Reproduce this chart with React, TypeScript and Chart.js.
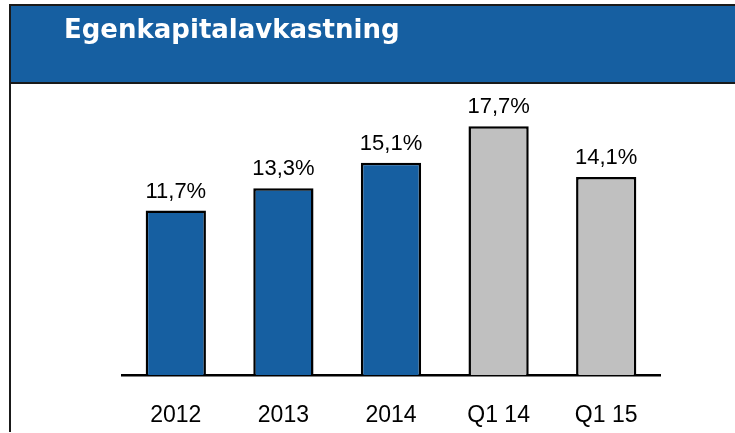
import React, { useEffect, useRef } from "react";
import { Chart, registerables } from "chart.js";

Chart.register(...registerables);

const TITLE = "Egenkapitalavkastning";
const categories = ["2012", "2013", "2014", "Q1 14", "Q1 15"];
const values = [11.7, 13.3, 15.1, 17.7, 14.1];
const barColors = ["#165FA1", "#165FA1", "#165FA1", "#C0C0C0", "#C0C0C0"];
const yMin = 0;
const yMax = 20;

const fmt = (v: number) => v.toFixed(1).replace(".", ",") + "%";

const framePlugin = {
  id: "frame",
  beforeDraw(chart: any) {
    const ctx = chart.ctx;
    const w = chart.width;
    ctx.save();
    ctx.fillStyle = "#ffffff";
    ctx.fillRect(0, 0, w, chart.height);
    ctx.fillStyle = "#165FA1";
    ctx.fillRect(10, 5, w - 10, 78);
    ctx.strokeStyle = "#1a1a1a";
    ctx.lineWidth = 2;
    ctx.beginPath();
    ctx.moveTo(10, 5);
    ctx.lineTo(w, 5);
    ctx.moveTo(10, 83);
    ctx.lineTo(w, 83);
    ctx.moveTo(10, 4);
    ctx.lineTo(10, 432);
    ctx.stroke();
    ctx.fillStyle = "#ffffff";
    ctx.font = "bold 26px 'DejaVu Sans'";
    ctx.textAlign = "left";
    ctx.textBaseline = "alphabetic";
    ctx.fillText(TITLE, 64, 38);
    ctx.restore();
  },
};

const valueLabelPlugin = {
  id: "valueLabels",
  afterDatasetsDraw(chart: any) {
    const ctx = chart.ctx;
    const meta = chart.getDatasetMeta(0);
    ctx.save();
    ctx.fillStyle = "#000000";
    ctx.font = "22px 'Liberation Sans'";
    ctx.textAlign = "center";
    ctx.textBaseline = "alphabetic";
    meta.data.forEach((bar: any, i: number) => {
      ctx.fillText(fmt(values[i]), bar.x, bar.y - 13);
    });
    ctx.restore();
  },
};

export default function App() {
  const ref = useRef<HTMLCanvasElement | null>(null);
  useEffect(() => {
    if (!ref.current) return;
    const chart = new Chart(ref.current, {
      type: "bar",
      data: {
        labels: categories,
        datasets: [
          {
            data: values,
            backgroundColor: barColors,
            borderColor: "#000000",
            borderWidth: 2.5,
            barPercentage: 0.56,
            categoryPercentage: 1,
          },
        ],
      },
      options: {
        responsive: false,
        animation: false,
        layout: { padding: { left: 122, right: 75, top: 94, bottom: 3.4 } },
        plugins: {
          legend: { display: false },
          tooltip: { enabled: false },
          title: { display: false },
        },
        scales: {
          x: {
            grid: { display: false, drawTicks: false },
            border: { display: true, color: "#000000", width: 2.5 },
            ticks: {
              color: "#000000",
              font: { family: "'Liberation Sans'", size: 23 },
              padding: 27,
            },
            afterFit: (scale: any) => {
              scale.height = 54.6;
            },
          },
          y: {
            display: false,
            min: yMin,
            max: yMax,
          },
        },
      },
      plugins: [framePlugin, valueLabelPlugin],
    });
    return () => chart.destroy();
  }, []);
  return (
    <div style={{ position: "absolute", left: 0, top: 0 }}>
      <canvas ref={ref} width={735} height={433} style={{ display: "block" }} />
    </div>
  );
}
